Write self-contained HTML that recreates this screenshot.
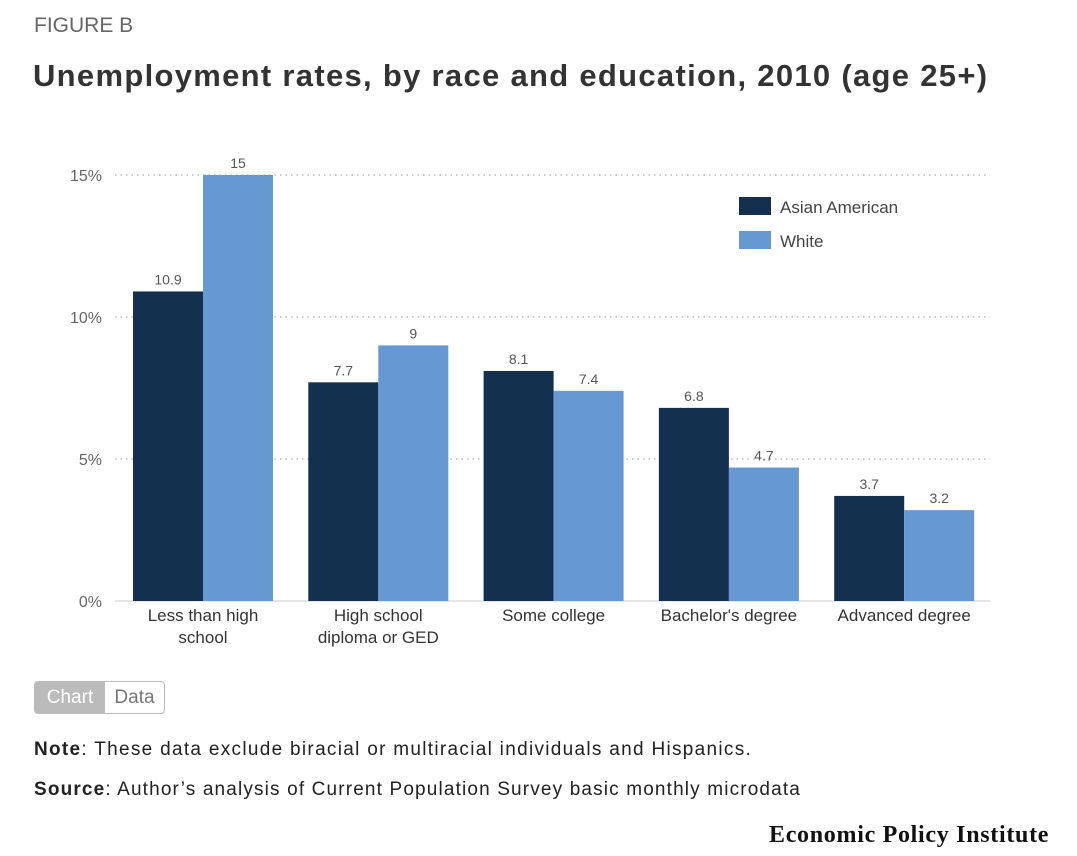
<!DOCTYPE html>
<html><head><meta charset="utf-8"><style>
body{margin:0;width:1077px;height:856px;background:#fff;font-family:"Liberation Sans",sans-serif;position:relative;overflow:hidden}
.abs{position:absolute}
</style></head><body>
<div class="abs" style="left:34px;top:14px;font-size:21px;color:#666">FIGURE B</div>
<div class="abs" style="left:33px;top:58px;font-size:31px;font-weight:bold;color:#333;letter-spacing:1.3px;white-space:nowrap">Unemployment rates, by race and education, 2010 (age 25+)</div>
<svg class="abs" style="left:0;top:0" width="1077" height="670">
<g id="grid"></g><g id="bars"></g><g id="labels"></g>
<g>
<rect x="739" y="197" width="32" height="18" fill="#14304f"/>
<text x="780" y="213" font-size="17" fill="#444">Asian American</text>
<rect x="739" y="231" width="32" height="18" fill="#6699d2"/>
<text x="780" y="247" font-size="17" fill="#444">White</text>
</g>
</svg>
<div class="abs" style="left:34px;top:681px;width:129px;height:31px;border:1px solid #bbb;border-radius:4px;overflow:hidden;font-size:19px;display:flex">
<div style="width:70px;background:#bbb;color:#fff;text-align:center;line-height:31px">Chart</div>
<div style="flex:1;color:#777;text-align:center;line-height:31px">Data</div>
</div>
<div class="abs" style="left:34px;top:739px;font-size:19px;letter-spacing:1.3px;color:#222;white-space:nowrap"><b>Note</b>: These data exclude biracial or multiracial individuals and Hispanics.</div>
<div class="abs" style="left:34px;top:779px;font-size:19px;letter-spacing:1.15px;color:#222;white-space:nowrap"><b>Source</b>: Author’s analysis of Current Population Survey basic monthly microdata</div>
<div class="abs" style="left:769px;top:822px;font-family:'Liberation Serif',serif;font-size:24px;letter-spacing:0.7px;font-weight:bold;color:#111;white-space:nowrap">Economic Policy Institute</div>
<script>
const categories=[["Less than high","school"],["High school","diploma or GED"],["Some college"],["Bachelor's degree"],["Advanced degree"]];
const asian=[10.9,7.7,8.1,6.8,3.7];
const white=[15,9,7.4,4.7,3.2];
const ticks=[0,5,10,15];
const NS="http://www.w3.org/2000/svg";
const y=v=>601-v*28.4;
const gx=i=>203+i*175.3;
function mk(t,a,p){const e=document.createElementNS(NS,t);for(const k in a)e.setAttribute(k,a[k]);p.appendChild(e);return e;}
const grid=document.getElementById('grid'),bars=document.getElementById('bars'),labels=document.getElementById('labels');
ticks.forEach(t=>{
  const l=mk('line',{x1:115,x2:990,y1:y(t),y2:y(t),stroke:t===0?'#ccc':'#bbb','stroke-width':t===0?1:1.5,'stroke-dasharray':t===0?'':'1.5 4'},grid);
  
  
  const tx=mk('text',{x:102,y:y(t)+6,'font-size':16,fill:'#666','text-anchor':'end'},grid);
  tx.textContent=t+'%';
  
  
});
categories.forEach((c,i)=>{
  [[asian[i],'#14304f',-70,'asian'],[white[i],'#6699d2',0,'white']].forEach(([v,col,off,nm])=>{
    const r=mk('rect',{x:gx(i)+off,y:y(v),width:70,height:601-y(v),fill:col},bars);
    
    
    const t=mk('text',{x:gx(i)+off+35,y:y(v)-7,'font-size':14,fill:'#555','text-anchor':'middle'},labels);
    t.textContent=String(v);
    
    
  });
  c.forEach((line,j)=>{
    const t=mk('text',{x:gx(i),y:621+j*22,'font-size':17,fill:'#333','text-anchor':'middle'},labels);
    t.textContent=line;
    
    
  });
});
</script>
</body></html>
